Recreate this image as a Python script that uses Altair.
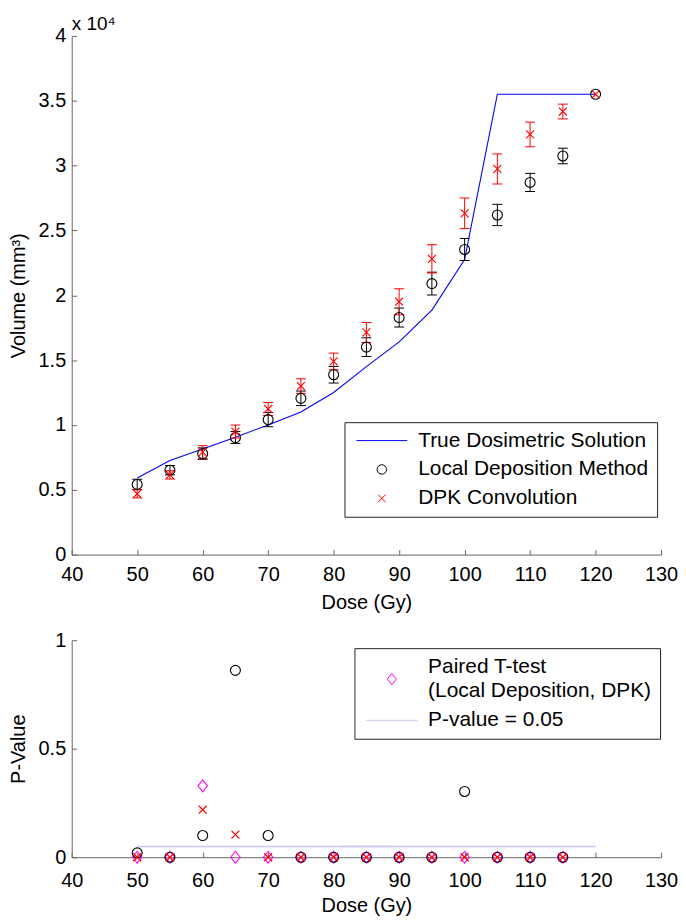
import altair as alt
import pandas as pd

# ---------------- data ----------------
dose = [50, 55, 60, 65, 70, 75, 80, 85, 90, 95, 100, 105, 110, 115, 120]
true_vol = [5900, 7260, 8150, 9050, 10000, 11000, 12500, 14500, 16400, 18850,
            22760, 35500, 35500, 35500, 35500]
ldm_vol = [5410, 6510, 7790, 9030, 10410, 12050, 13870, 16000, 18280, 20900,
           23530, 26190, 28700, 30740, 35500]
ldm_err = [400, 360, 440, 460, 550, 560, 640, 720, 730, 880, 850, 820, 700, 600, 0]
dpk_vol = [4690, 6150, 7900, 9490, 11230, 13000, 14900, 17130, 19500, 22810,
           26320, 29740, 32400, 34170, 35500]
dpk_err = [320, 320, 500, 500, 500, 560, 640, 770, 1000, 1090, 1180, 1160, 950, 570, 0]

p_dose = [50, 55, 60, 65, 70, 75, 80, 85, 90, 95, 100, 105, 110, 115]
p_ldm = [0.02, 0, 0.10, 0.861, 0.10, 0, 0, 0, 0, 0, 0.303, 0, 0, 0]
p_dpk = [0, 0, 0.219, 0.104, 0, 0, 0, 0, 0, 0, 0, 0, 0, 0]
p_paired = [0, 0, 0.329, 0, 0, 0, 0, 0, 0, 0, 0, 0, 0, 0]
pline_dose = [50, 120]
pline_val = [0.05, 0.05]

x_ticks = [40, 50, 60, 70, 80, 90, 100, 110, 120, 130]
y1_ticks = [0, 5000, 10000, 15000, 20000, 25000, 30000, 35000, 40000]
y2_ticks = [0, 0.5, 1]

S_TRUE = "True Dosimetric Solution"
S_LDM = "Local Deposition Method"
S_DPK = "DPK Convolution"
S_PAIR = "Paired T-test|(Local Deposition, DPK)"
S_PV = "P-value = 0.05"

# ---------------- tables ----------------
df_true = pd.DataFrame({"dose": dose, "vol": true_vol})
df_ldm = pd.DataFrame({"dose": dose, "vol": ldm_vol, "err": ldm_err, "series": S_LDM})
df_dpk = pd.DataFrame({"dose": dose, "vol": dpk_vol, "err": dpk_err, "series": S_DPK})
for d in (df_ldm, df_dpk):
    d["lo"] = d["vol"] - d["err"]
    d["hi"] = d["vol"] + d["err"]
df_pts = pd.concat([df_ldm, df_dpk], ignore_index=True)
df_ldm_bars = df_ldm[df_ldm["err"] > 0]
df_dpk_bars = df_dpk[df_dpk["err"] > 0]


def caps(d):
    return pd.concat([
        pd.DataFrame({"dose": d["dose"], "y": d["lo"]}),
        pd.DataFrame({"dose": d["dose"], "y": d["hi"]}),
    ], ignore_index=True)


df_p_ldm = pd.DataFrame({"dose": p_dose, "p": p_ldm})
df_p_dpk = pd.DataFrame({"dose": p_dose, "p": p_dpk})
df_p_pair = pd.DataFrame({"dose": p_dose, "p": p_paired})
df_pline = pd.DataFrame({"dose": pline_dose, "p": pline_val})

# ---------------- styling ----------------
FONT = "Liberation Sans"
W = 592
H1 = 521
H2 = 218
AX = "#666666"
XPATH = "M-0.8,-0.8L0.8,0.8M-0.8,0.8L0.8,-0.8"
LINEPATH = "M-5.4,0L5.4,0"
DIAPATH = "M0,-1.2L0.95,0L0,1.2L-0.95,0Z"
DIAPATH_LEG = "M0,1.44L0.95,2.64L0,3.84L-0.95,2.64Z"

xs = alt.Scale(domain=[40, 130], nice=False, zero=False)
ys1 = alt.Scale(domain=[0, 40000], nice=False)
ys2 = alt.Scale(domain=[0, 1], nice=False)


def main_x(lp, tp):
    return alt.Axis(values=x_ticks, title="Dose (Gy)", ticks=False, grid=False,
                    domainColor=AX, labelPadding=lp, titlePadding=tp,
                    labelFlush=False, labelOverlap=False)


def main_y(title, ticks, expr):
    return alt.Axis(values=ticks, title=title, ticks=False, grid=False,
                    domainColor=AX, labelPadding=6, titlePadding=10,
                    labelExpr=expr, labelOverlap=False)


def tick_x(h):
    return alt.Axis(orient="top", offset=-h, values=x_ticks, labels=False,
                    domain=False, ticks=True, tickSize=5, tickColor=AX,
                    title=None, grid=False)


def tick_y(ticks):
    return alt.Axis(orient="right", offset=-W, values=ticks, labels=False,
                    domain=False, ticks=True, tickSize=5, tickColor=AX,
                    title=None, grid=False)


def legend(lx, ly, row_pad):
    return alt.Legend(title=None, orient="none", legendX=lx, legendY=ly,
                      strokeColor="#222222", fillColor="white", padding=8,
                      symbolSize=90, symbolStrokeWidth=1, symbolOffset=19,
                      labelOffset=26, rowPadding=row_pad, labelFontSize=21,
                      labelFont=FONT, labelColor="black", labelLimit=500,
                      labelExpr="split(datum.label, '|')")


# ---------------- top panel ----------------
line_true = alt.Chart(df_true).mark_line(color="#0000ff", strokeWidth=1.1).encode(
    x=alt.X("dose:Q", scale=xs, axis=main_x(10, 8)),
    y=alt.Y("vol:Q", scale=ys1,
            axis=main_y("Volume (mm³)", y1_ticks, "datum.value / 10000 + ''")),
)


def err_layers(d, color):
    r = alt.Chart(d).mark_rule(color=color, strokeWidth=1).encode(
        x=alt.X("dose:Q", scale=xs, axis=None),
        y=alt.Y("lo:Q", scale=ys1, axis=None),
        y2="hi:Q",
    )
    t = alt.Chart(caps(d)).mark_tick(color=color, orient="horizontal", size=10,
                                     thickness=1, opacity=1).encode(
        x=alt.X("dose:Q", scale=xs, axis=None),
        y=alt.Y("y:Q", scale=ys1, axis=None),
    )
    return [r, t]


names1 = [S_TRUE, S_LDM, S_DPK]
leg1 = legend(274, 388, 7)
pts_top = alt.Chart(df_pts).mark_point(filled=False, size=100, strokeWidth=1.1,
                                       opacity=1).encode(
    x=alt.X("dose:Q", scale=xs, axis=tick_x(H1)),
    y=alt.Y("vol:Q", scale=ys1, axis=tick_y(y1_ticks)),
    shape=alt.Shape("series:N", scale=alt.Scale(domain=names1,
                    range=[LINEPATH, "circle", XPATH]), legend=leg1),
    color=alt.Color("series:N", scale=alt.Scale(domain=names1,
                    range=["#0000ff", "#000000", "#ff0000"]), legend=leg1),
)

top = alt.layer(
    line_true,
    *err_layers(df_ldm_bars, "#000000"),
    *err_layers(df_dpk_bars, "#ff0000"),
    pts_top,
).resolve_axis(x="independent", y="independent").properties(
    width=W, height=H1,
    title=alt.TitleParams("x 10⁴", anchor="start", frame="group", fontSize=19,
                          font=FONT, fontWeight="normal", baseline="alphabetic",
                          offset=-23, color="black"),
)

# ---------------- bottom panel ----------------
pline = alt.Chart(df_pline).mark_line(color="#c8c8f5", strokeWidth=1.5).encode(
    x=alt.X("dose:Q", scale=xs, axis=main_x(13, 6)),
    y=alt.Y("p:Q", scale=ys2, axis=main_y("P-Value", y2_ticks, "datum.value + ''")),
)
dia = alt.Chart(df_p_pair).mark_point(shape=DIAPATH, filled=False, size=100,
                                      color="#ff00ff", strokeWidth=1.1, opacity=1).encode(
    x=alt.X("dose:Q", scale=xs, axis=None),
    y=alt.Y("p:Q", scale=ys2, axis=None),
)
circ = alt.Chart(df_p_ldm).mark_point(shape="circle", filled=False, size=100,
                                      color="#000000", strokeWidth=1.1, opacity=1).encode(
    x=alt.X("dose:Q", scale=xs, axis=None),
    y=alt.Y("p:Q", scale=ys2, axis=None),
)
crs = alt.Chart(df_p_dpk).mark_point(shape=XPATH, filled=False, size=100,
                                     color="#ff0000", strokeWidth=1.2, opacity=1).encode(
    x=alt.X("dose:Q", scale=xs, axis=None),
    y=alt.Y("p:Q", scale=ys2, axis=None),
)
names2 = [S_PAIR, S_PV]
leg2 = legend(284, 8, 7)
# legend carrier: one segment centred on the 0.05 line (coincides with it)
pv_leg = alt.Chart(df_pline).transform_aggregate(
    dose="mean(dose)", p="mean(p)"
).transform_calculate(series=f"'{S_PV}'").mark_point(
    filled=False, size=90, strokeWidth=1.5, opacity=1
).encode(
    x=alt.X("dose:Q", scale=xs, axis=tick_x(H2)),
    y=alt.Y("p:Q", scale=ys2, axis=tick_y(y2_ticks)),
    shape=alt.Shape("series:N", scale=alt.Scale(domain=names2,
                    range=[DIAPATH_LEG, LINEPATH]), legend=leg2),
    color=alt.Color("series:N", scale=alt.Scale(domain=names2,
                    range=["#ff00ff", "#c8c8f5"]), legend=leg2),
)

bottom = alt.layer(pline, pv_leg, dia, circ, crs).resolve_axis(
    x="independent", y="independent").properties(width=W, height=H2)

chart = alt.vconcat(top, bottom, spacing=18).resolve_scale(
    color="independent", shape="independent"
).properties(
    padding={"left": 0, "top": 5, "right": 0, "bottom": 0},
    background="white",
).configure(
    style={"guide-label": {"lineHeight": 25}}
).configure_view(stroke=None).configure_axis(
    labelFont=FONT, titleFont=FONT, labelFontSize=20, titleFontSize=20,
    labelColor="black", titleColor="black", titleFontWeight="normal",
)

chart.save("out.html", embed_options={"renderer": "svg", "actions": False})
